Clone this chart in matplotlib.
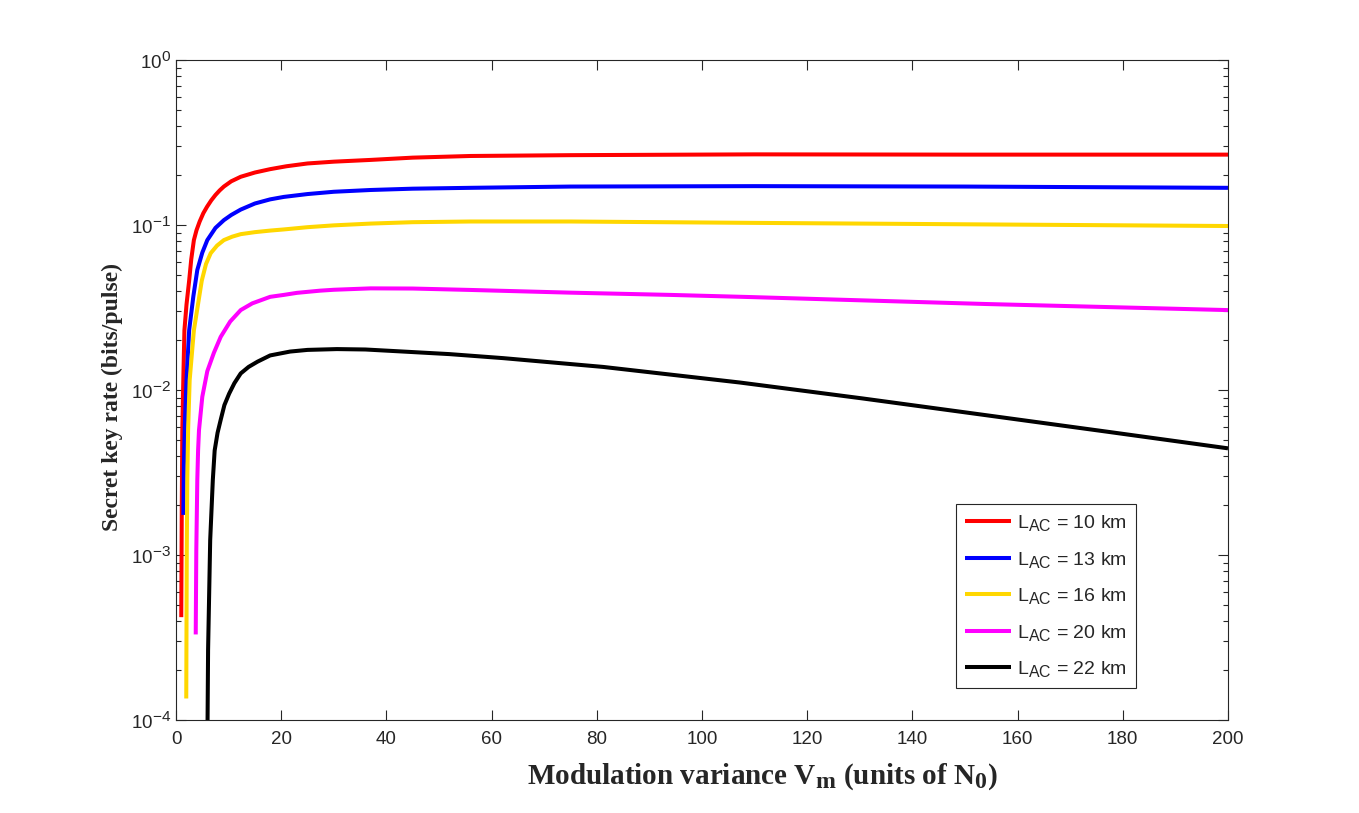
import matplotlib
matplotlib.use("Agg")
import matplotlib.pyplot as plt
import matplotlib._mathtext as mathtext_internals
from matplotlib.ticker import LogLocator, NullFormatter, MultipleLocator

plt.rcParams["font.family"] = ["Liberation Sans", "DejaVu Sans"]
plt.rcParams["mathtext.default"] = "regular"
# MATLAB-style sub/superscripts are only slightly smaller than the base text
mathtext_internals.SHRINK_FACTOR = 0.82

# secret key rate vs modulation variance
x_10km = [1.0, 1.1, 1.2, 1.4, 1.6, 2.0, 2.5, 2.9, 3.4, 3.9, 4.5, 5.2, 5.9, 6.7, 7.5, 8.3, 9.1, 10.5, 12.3, 15,
          17.9, 21, 25, 30, 37, 45, 56, 75, 110, 150, 200]
y_10km = [4.2e-4, 2.0e-3, 5.7e-3, 1.2e-2, 2.3e-2, 3.3e-2, 4.6e-2, 6.2e-2, 8.1e-2, 9.3e-2, 1.05e-1, 1.18e-1,
          1.29e-1, 1.41e-1, 1.52e-1, 1.62e-1, 1.71e-1, 1.84e-1, 1.96e-1, 2.08e-1, 2.18e-1, 2.27e-1, 2.36e-1,
          2.42e-1, 2.48e-1, 2.56e-1, 2.62e-1, 2.65e-1, 2.68e-1, 2.67e-1, 2.67e-1]

x_13km = [1.4, 1.5, 1.7, 2.0, 2.5, 3.3, 4.05, 5.0, 5.95, 7.5, 9.1, 10.5, 12.3, 15, 17.9, 20.5, 25, 30, 37, 45,
          56, 75, 110, 150, 200]
y_13km = [1.75e-3, 3.5e-3, 6.5e-3, 1.15e-2, 2.3e-2, 3.7e-2, 5.34e-2, 6.8e-2, 8.1e-2, 9.6e-2, 1.07e-1, 1.15e-1,
          1.24e-1, 1.35e-1, 1.43e-1, 1.48e-1, 1.54e-1, 1.59e-1, 1.63e-1, 1.66e-1, 1.68e-1, 1.71e-1, 1.72e-1,
          1.71e-1, 1.68e-1]

x_16km = [1.95, 2.0, 2.05, 2.15, 2.3, 2.6, 3.4, 4.9, 5.7, 6.6, 7.8, 9.1, 10.7, 12.3, 15, 17.9, 20.5, 25, 30, 37,
          45, 56, 75, 110, 150, 200]
y_16km = [1.35e-4, 4.0e-4, 1.1e-3, 2.9e-3, 5.7e-3, 1.15e-2, 2.3e-2, 4.6e-2, 5.8e-2, 6.75e-2, 7.5e-2, 8.1e-2,
          8.5e-2, 8.8e-2, 9.05e-2, 9.25e-2, 9.4e-2, 9.7e-2, 9.95e-2, 1.02e-1, 1.04e-1, 1.05e-1, 1.05e-1,
          1.03e-1, 1.01e-1, 9.86e-2]

x_20km = [3.75, 3.86, 4.05, 4.2, 4.37, 5.0, 5.95, 7.2, 8.5, 10.3, 12.3, 14.5, 17.9, 20.5, 23, 27.4, 30, 37, 45,
          56, 75, 94, 109, 154, 200]
y_20km = [3.3e-4, 1.07e-3, 2.85e-3, 4.3e-3, 5.7e-3, 9.1e-3, 1.3e-2, 1.68e-2, 2.1e-2, 2.6e-2, 3.05e-2, 3.35e-2,
          3.67e-2, 3.77e-2, 3.88e-2, 4.0e-2, 4.05e-2, 4.13e-2, 4.12e-2, 4.04e-2, 3.89e-2, 3.77e-2, 3.66e-2,
          3.32e-2, 3.05e-2]

x_22km = [5.95, 6.0, 6.1, 6.5, 7.0, 7.35, 7.9, 8.5, 9.2, 10.1, 11.1, 12.3, 13.8, 15.5, 17.9, 21.7, 25, 30.6, 36,
          43.2, 52, 62.2, 81.2, 107.2, 130.4, 153.8, 177, 200]
y_22km = [6e-5, 1e-4, 2.66e-4, 1.23e-3, 2.85e-3, 4.3e-3, 5.5e-3, 6.6e-3, 8.1e-3, 9.5e-3, 1.1e-2, 1.26e-2,
          1.38e-2, 1.485e-2, 1.62e-2, 1.71e-2, 1.75e-2, 1.77e-2, 1.76e-2, 1.71e-2, 1.65e-2, 1.56e-2, 1.38e-2,
          1.11e-2, 8.9e-3, 7.05e-3, 5.59e-3, 4.43e-3]

series = [
    (x_10km, y_10km, "#ff0000", "$L_{AC}$ = 10 km"),
    (x_13km, y_13km, "#0000ff", "$L_{AC}$ = 13 km"),
    (x_16km, y_16km, "#ffd700", "$L_{AC}$ = 16 km"),
    (x_20km, y_20km, "#ff00ff", "$L_{AC}$ = 20 km"),
    (x_22km, y_22km, "#000000", "$L_{AC}$ = 22 km"),
]

axis_grey = "#262626"

fig = plt.figure(figsize=(13.59, 8.13), dpi=100)
ax = fig.add_axes([176 / 1359, 1 - 720 / 813, 1052 / 1359, 660 / 813])

for xs, ys, color, label in series:
    ax.plot(xs, ys, color=color, linewidth=2.9, label=label, solid_capstyle="butt")

ax.set_yscale("log")
ax.set_xlim(0, 200)
ax.set_ylim(1e-4, 1e0)
ax.xaxis.set_major_locator(MultipleLocator(20))
ax.yaxis.set_major_locator(LogLocator(base=10, numticks=10))
ax.yaxis.set_minor_locator(LogLocator(base=10, subs=range(2, 10), numticks=20))
ax.yaxis.set_minor_formatter(NullFormatter())

ax.tick_params(which="both", direction="in", top=True, right=True, colors=axis_grey,
               labelsize=13.5, width=0.8)
ax.tick_params(which="major", length=7)
ax.tick_params(which="minor", length=3.6)
ax.tick_params(axis="x", pad=8)
for spine in ax.spines.values():
    spine.set_color(axis_grey)
    spine.set_linewidth(0.8)

label_font = dict(family="Liberation Serif", weight="bold", color=axis_grey)
ax.set_xlabel("Modulation variance $V_m$ (units of $N_0$)", size=21, **label_font)
ax.xaxis.set_label_coords(0.557, -0.062)
ax.set_ylabel("Secret key rate (bits/pulse)", size=17, **label_font)
ax.yaxis.set_label_coords(-0.050, 0.49)

leg = ax.legend(loc="lower left", bbox_to_anchor=(0.7414, 0.0485), fontsize=14,
                frameon=True, fancybox=False, shadow=False, framealpha=1,
                edgecolor=axis_grey, handlelength=2.4, handletextpad=0.3,
                labelspacing=0.85, borderpad=0.45, borderaxespad=0)
leg.get_frame().set_linewidth(0.8)
for text in leg.get_texts():
    text.set_color(axis_grey)

fig.savefig("out.png", dpi=100, facecolor="white")
